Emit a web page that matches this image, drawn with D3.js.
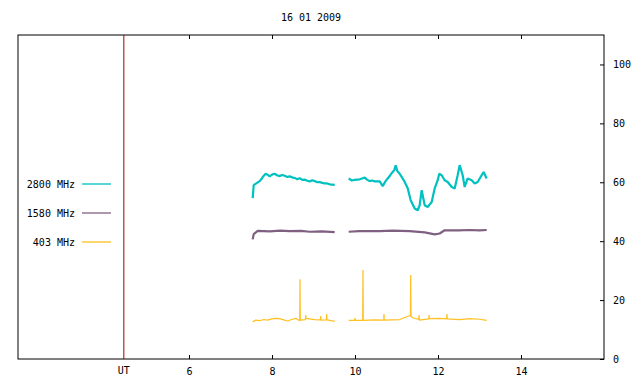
<!DOCTYPE html>
<html>
<head>
<meta charset="utf-8">
<script src="https://cdn.jsdelivr.net/npm/d3@7"></script>
<style>
  body { margin: 0; background: #fff; }
  text { font-family: "DejaVu Sans Mono", monospace; font-size: 10px; fill: #000; }
</style>
</head>
<body>
<div id="chart"></div>
<script>

// title + axis settings
var title = "16 01 2009";
var xTicks = [6, 8, 10, 12, 14];
var yTicks = [0, 20, 40, 60, 80, 100];
var utHour = 4.43;   // red marker line
var labels = ["2800 MHz", "1580 MHz", "403 MHz"];
var colors = ["#00c0c0", "#806080", "#ffc020"];

// [UT hour, flux] -- morning and afternoon runs
var f2800_am = [[7.535,54.6],[7.559,59.0],[7.631,59.7],[7.703,60.4],[7.752,61.2],[7.776,61.8],[7.848,62.9],[7.90,62.5],
    [7.945,62.0],[8.00,62.6],[8.065,62.9],[8.12,62.4],[8.186,62.1],[8.25,62.5],[8.306,62.2],[8.37,61.8],[8.426,62.0],
    [8.50,61.6],[8.547,61.5],[8.61,61.0],[8.667,61.4],[8.73,60.8],[8.788,60.9],[8.85,60.5],[8.908,60.3],[8.97,60.7],
    [9.029,60.4],[9.09,60.0],[9.149,60.1],[9.21,59.8],[9.270,59.6],[9.33,59.6],[9.390,59.3],[9.45,59.2],[9.511,59.1]];
var f2800_pm = [[9.848,61.3],[9.92,60.6],[9.993,60.8],[10.05,60.9],[10.113,61.0],[10.17,61.3],[10.234,61.6],[10.29,60.9],
    [10.354,60.4],[10.41,60.6],[10.475,60.3],[10.595,60.3],[10.667,58.7],[10.73,60.2],[10.788,61.3],[10.85,62.4],
    [10.908,63.5],[10.95,64.2],[10.981,65.8],[11.02,63.8],[11.077,62.9],[11.14,61.5],[11.198,60.1],[11.270,58.0],
    [11.342,53.9],[11.439,51.1],[11.511,50.5],[11.559,52.2],[11.607,57.3],[11.680,52.2],[11.752,51.6],[11.848,53.3],
    [11.920,57.9],[11.993,60.7],[12.03,62.9],[12.089,62.4],[12.161,60.7],[12.234,60.1],[12.330,58.4],[12.402,57.9],
    [12.474,62.4],[12.522,65.8],[12.595,62.4],[12.643,58.4],[12.715,61.3],[12.811,60.7],[12.884,59.6],[12.956,60.1],
    [13.052,62.4],[13.101,63.5],[13.173,61.3]];

var f1580_am = [[7.535,40.6],[7.559,42.4],[7.655,43.5],[7.945,43.3],[8.20,43.6],[8.426,43.4],[8.70,43.5],[8.908,43.2],
    [9.20,43.3],[9.511,43.1]];
var f1580_pm = [[9.848,43.2],[10.10,43.4],[10.595,43.4],[10.90,43.6],[11.318,43.4],[11.680,43.0],[11.920,42.3],
    [12.040,42.6],[12.161,43.7],[12.50,43.7],[12.763,43.8],[13.00,43.7],[13.173,43.8]];

var f403_am = [[7.535,12.6],[7.607,13.2],[7.703,13.0],[7.800,13.4],[7.896,13.2],[7.993,13.6],[8.089,13.8],[8.186,13.7],
    [8.282,13.3],[8.378,12.9],[8.475,13.4],[8.571,13.8],[8.668,13.0],[8.675,27.1],[8.682,13.2],[8.805,13.4],[8.812,14.9],
    [8.820,13.8],[9.029,13.4],[9.166,13.3],[9.173,14.6],[9.180,13.2],[9.311,13.3],[9.318,15.3],[9.325,13.3],[9.511,12.8]];
var f403_pm = [[9.848,13.1],[9.993,13.1],[10.0,14.0],[10.007,13.1],[10.186,13.1],[10.193,30.2],[10.200,13.1],[10.475,13.3],
    [10.692,13.2],[10.699,15.3],[10.706,13.2],[11.077,13.4],[11.294,14.6],[11.335,14.6],[11.342,28.5],[11.349,14.6],
    [11.390,14.0],[11.537,13.4],[11.544,14.9],[11.551,13.2],[11.778,13.6],[11.785,14.9],[11.792,13.7],[12.040,13.8],
    [12.210,13.6],[12.217,15.3],[12.224,13.6],[12.522,13.4],[12.763,13.7],[13.004,13.5],[13.173,13.1]];


RadioChart = function(_parentElement){
    this.parentElement = _parentElement;
    this.series = [
        [f2800_am, f2800_pm],
        [f1580_am, f1580_pm],
        [f403_am, f403_pm]
    ];
    this.initVis();
}

RadioChart.prototype.initVis = function(){
    var vis = this;

    vis.margin = {top: 35, right: 36, bottom: 25, left: 18};
    vis.width = 640 - vis.margin.left - vis.margin.right;
    vis.height = 384 - vis.margin.top - vis.margin.bottom;

    vis.svg = d3.select("#" + vis.parentElement).append("svg")
        .attr("width", 640)
        .attr("height", 384)
        .append("g")
        .attr("transform", "translate(" + vis.margin.left + "," + vis.margin.top + ")");

    vis.x = d3.scaleLinear().domain([1.88, 16]).range([0, vis.width]);
    vis.y = d3.scaleLinear().domain([0, 110]).range([vis.height, 0]);

    vis.line = d3.line()
        .x(function(d) { return vis.x(d[0]); })
        .y(function(d) { return vis.y(d[1]); });

    vis.updateVis();
}

RadioChart.prototype.updateVis = function(){
    var vis = this;

    // title
    vis.svg.append("text")
        .attr("x", vis.width / 2)
        .attr("y", -17)
        .attr("text-anchor", "middle")
        .attr("dominant-baseline", "middle")
        .text(title);

    // axes: ticks inward, labels on right + bottom
    vis.svg.append("g")
        .attr("transform", "translate(0," + vis.height + ")")
        .call(d3.axisBottom(vis.x).tickValues(xTicks).tickSizeInner(-4).tickSizeOuter(0).tickPadding(9));
    vis.svg.append("g")
        .call(d3.axisTop(vis.x).tickValues(xTicks).tickSizeInner(-4).tickSizeOuter(0).tickFormat(""));
    vis.svg.append("g")
        .attr("transform", "translate(" + vis.width + ",0)")
        .call(d3.axisRight(vis.y).tickValues(yTicks).tickSizeInner(-4).tickSizeOuter(0).tickPadding(9));

    vis.svg.selectAll(".domain").remove();
    vis.svg.selectAll(".tick line").attr("stroke", "#000");
    vis.svg.selectAll(".tick text").style("font-family", "DejaVu Sans Mono").style("font-size", "10px");

    vis.svg.append("rect")
        .attr("width", vis.width)
        .attr("height", vis.height)
        .attr("fill", "none")
        .attr("stroke", "#000")
        .attr("stroke-width", 1);

    // UT marker
    vis.svg.append("line")
        .attr("x1", vis.x(utHour)).attr("x2", vis.x(utHour))
        .attr("y1", 0).attr("y2", vis.height)
        .attr("stroke", "#a00000");
    vis.svg.append("text")
        .attr("x", vis.x(utHour))
        .attr("y", vis.height + 12)
        .attr("text-anchor", "middle")
        .attr("dominant-baseline", "middle")
        .text("UT");

    // data
    vis.series.forEach(function(segs, i){
        segs.forEach(function(seg){
            vis.svg.append("path")
                .datum(seg)
                .attr("fill", "none")
                .attr("stroke", colors[i])
                .attr("stroke-width", i < 2 ? 2.2 : 1.2)
                .attr("stroke-linejoin", "bevel")
                .attr("d", vis.line);
        });
    });

    // legend
    var leg = vis.svg.selectAll(".legend")
        .data(labels)
        .enter().append("g")
        .attr("class", "legend")
        .attr("transform", function(d, i){ return "translate(0," + (149 + i * 29) + ")"; });
    leg.append("text")
        .attr("x", 57)
        .attr("y", 1)
        .attr("text-anchor", "end")
        .attr("dominant-baseline", "middle")
        .text(function(d){ return d; });
    leg.append("line")
        .attr("x1", 64).attr("x2", 93)
        .attr("stroke", function(d, i){ return colors[i]; })
        .attr("stroke-width", 1.3);
}

new RadioChart("chart");
</script>
</body>
</html>
